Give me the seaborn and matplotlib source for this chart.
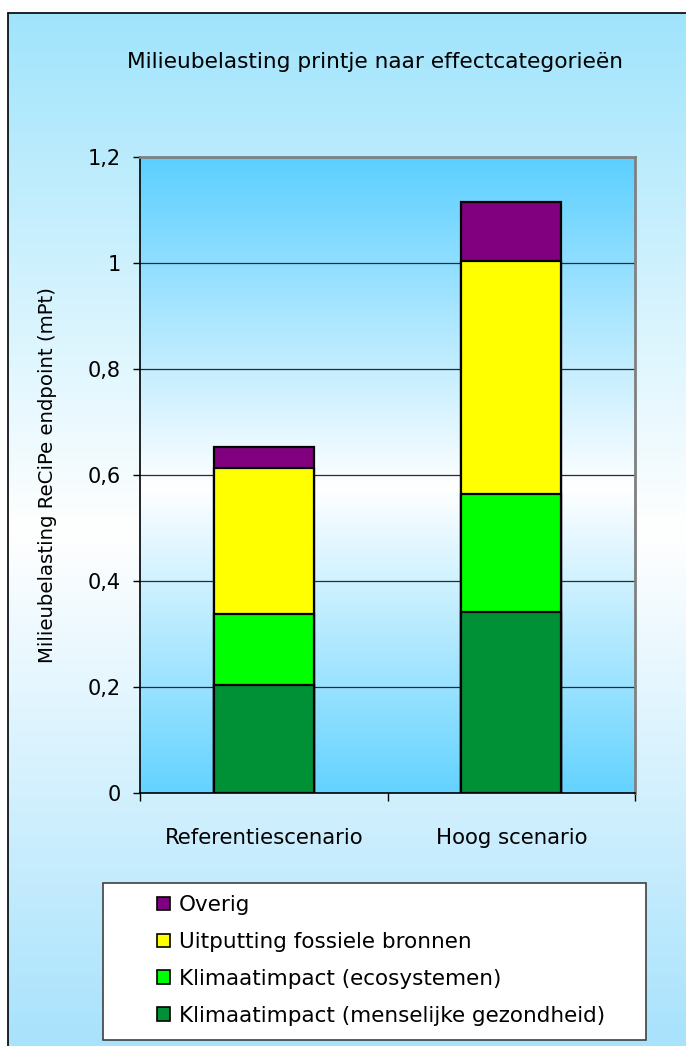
import numpy as np
import pandas as pd
import matplotlib
matplotlib.use("Agg")
import matplotlib.pyplot as plt
from matplotlib.colors import LinearSegmentedColormap
from matplotlib.patches import Rectangle, Patch
from matplotlib.lines import Line2D
import seaborn as sns

# ---- data ----
scenarios = ["Referentiescenario", "Hoog scenario"]
klimaat_mens = [0.204, 0.341]
klimaat_eco = [0.134, 0.223]
fossiel = [0.275, 0.440]
overig = [0.040, 0.111]
series_names = ["Klimaatimpact (menselijke gezondheid)", "Klimaatimpact (ecosystemen)",
                "Uitputting fossiele bronnen", "Overig"]
series_colors = ["#009036", "#00ff00", "#ffff00", "#800080"]
ytick_vals = [0, 0.2, 0.4, 0.6, 0.8, 1.0, 1.2]
ytick_labels = ["0", "0,2", "0,4", "0,6", "0,8", "1", "1,2"]
title = "Milieubelasting printje naar effectcategorieën"
ylabel = "Milieubelasting ReCiPe endpoint (mPt)"

sns.set_theme(style="white")
plt.rcParams['font.family'] = ['DejaVu Sans']
plt.rcParams['text.color'] = 'black'

W, H = 686, 1046
fig = plt.figure(figsize=(W / 100, H / 100), dpi=100)
fig.patch.set_facecolor("white")

# outer background gradient (blue - white - blue)
bg = fig.add_axes([8 / W, 0, 1 - 8 / W, 1 - 13 / H], zorder=-10)
cmap_out = LinearSegmentedColormap.from_list("o", ["#a0e4fc", "#ffffff", "#a8e2fc"])
bg.imshow(np.linspace(0, 1, 256).reshape(-1, 1), cmap=cmap_out, aspect="auto",
          extent=[0, 1, 0, 1], origin="upper")
bg.set_xlim(0, 1); bg.set_ylim(0, 1)
bg.axis("off")
fig.add_artist(Line2D([8 / W, 8 / W], [0, 1 - 13 / H], color="black", lw=1.2, transform=fig.transFigure))
fig.add_artist(Line2D([8 / W, 1], [1 - 13 / H, 1 - 13 / H], color="black", lw=1.2, transform=fig.transFigure))

# main axes
ax = fig.add_axes([140 / W, 1 - 793 / H, (635 - 140) / W, (793 - 157) / H])
cmap_in = LinearSegmentedColormap.from_list("i", [(0, "#5ccfff"), (0.52, "#ffffff"), (1, "#64d3ff")])
ax.imshow(np.linspace(0, 1, 256).reshape(-1, 1), cmap=cmap_in, aspect="auto",
          extent=[-0.5, 1.5, 0, 1.2], origin="upper", zorder=0)

# stacked bars via cumulative totals, drawn tallest first
layers = [klimaat_mens, klimaat_eco, fossiel, overig]
cum = np.cumsum(np.array(layers), axis=0)
for i in range(len(layers) - 1, -1, -1):
    df = pd.DataFrame({"scenario": scenarios, "value": cum[i]})
    sns.barplot(data=df, x="scenario", y="value", color=series_colors[i], saturation=1,
                width=0.404, edgecolor="black", linewidth=1.6, ax=ax, zorder=3 + (3 - i))

ax.set_xlim(-0.5, 1.5)
ax.set_ylim(0, 1.2)
ax.set_yticks(ytick_vals)
ax.set_yticklabels(ytick_labels)
for v in ytick_vals[1:]:
    ax.axhline(v, color="#2a2a2a", lw=0.9, zorder=1)

ax.set_xlabel("")
ax.set_ylabel(ylabel, fontsize=14.2, color="black")
ax.yaxis.set_label_coords(-0.168, 0.5)

ax.tick_params(axis="y", which="major", left=True, length=5, width=1, color="black",
               direction="out", pad=9, labelsize=15, labelcolor="black")
ax.tick_params(axis="x", which="major", bottom=False, pad=19, labelsize=15.3, labelcolor="black")
ax.set_xticks([-0.5, 0.5, 1.5], minor=True)
ax.tick_params(axis="x", which="minor", bottom=True, length=6, width=1, color="black", direction="out")

for s in ["left", "bottom"]:
    ax.spines[s].set_color("black"); ax.spines[s].set_linewidth(1.2)
for s in ["top", "right"]:
    ax.spines[s].set_color("#808080"); ax.spines[s].set_linewidth(2)
    ax.spines[s].set_visible(True)

fig.text(375 / W, 1 - 62 / H, title, ha="center", va="center", fontsize=15.6, color="black")

# legend box
fig.add_artist(Rectangle((103 / W, 1 - 1040 / H), (646 - 103) / W, (1040 - 883) / H,
                         transform=fig.transFigure, facecolor="white", edgecolor="#404040", lw=1.2))
handles = [Patch(facecolor=series_colors[i], edgecolor="black", lw=1.2, label=series_names[i])
           for i in range(3, -1, -1)]
fig.legend(handles=handles, loc="upper left", bbox_to_anchor=(140 / W, 1 - 878 / H),
           frameon=False, fontsize=15.5, handlelength=0.6, handleheight=0.6, labelcolor="black",
           handletextpad=0.4, labelspacing=0.78, borderpad=0.3)

fig.savefig("out.png", dpi=100)
